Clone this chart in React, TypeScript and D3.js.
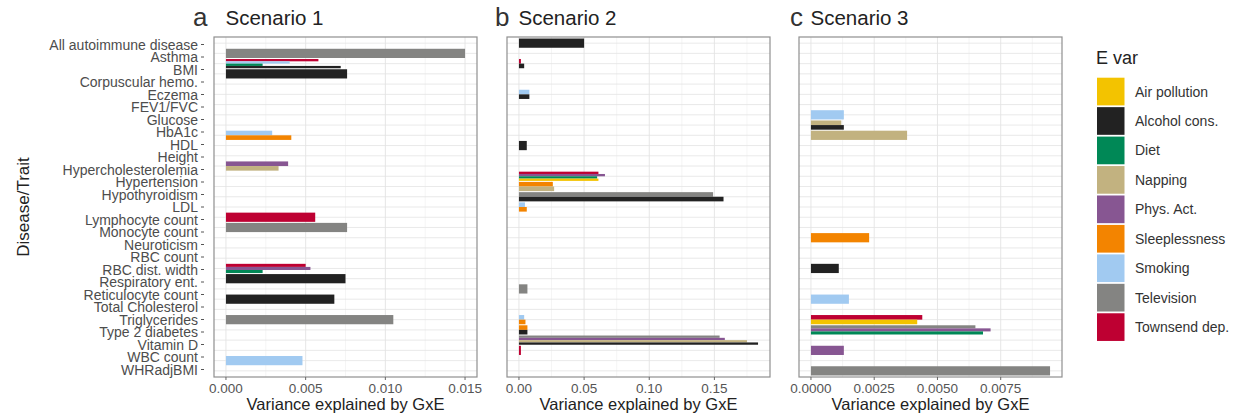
import React, { useEffect, useRef } from 'react';
import * as d3 from 'd3';

// y-axis labels as printed on the figure (27 names)
const traits = [
  'All autoimmune disease', 'Asthma', 'BMI', 'Corpuscular hemo.', 'Eczema', 'FEV1/FVC',
  'Glucose', 'HbA1c', 'HDL', 'Height', 'Hypercholesterolemia', 'Hypertension',
  'Hypothyroidism', 'LDL', 'Lymphocyte count', 'Monocyte count', 'Neuroticism', 'RBC count',
  'RBC dist. width', 'Respiratory ent.', 'Reticulocyte count', 'Total Cholesterol',
  'Triglycerides', 'Type 2 diabetes', 'Vitamin D', 'WBC count', 'WHRadjBMI',
];

// the bars themselves sit on 33 discrete rows (the figure does not line them up with the labels)
const barRows = d3.range(33);

const evars = [
  'Air pollution', 'Alcohol cons.', 'Diet', 'Napping', 'Phys. Act.',
  'Sleeplessness', 'Smoking', 'Television', 'Townsend dep.',
];
const evarColors = ['#F3C300', '#222222', '#008856', '#C2B280', '#875692', '#F38400', '#A1CAF1', '#848482', '#BE0032'];

// [row, E var, variance explained]
const scenario1 = [
  [1, 'Television', 0.015],
  [2, 'Townsend dep.', 0.0058], [2, 'Smoking', 0.004], [2, 'Diet', 0.0023], [2, 'Alcohol cons.', 0.0072],
  [3, 'Alcohol cons.', 0.0076],
  [9, 'Smoking', 0.0029], [9, 'Sleeplessness', 0.0041],
  [12, 'Phys. Act.', 0.0039], [12, 'Napping', 0.0033],
  [17, 'Townsend dep.', 0.0056],
  [18, 'Television', 0.0076],
  [22, 'Townsend dep.', 0.005], [22, 'Phys. Act.', 0.0053], [22, 'Diet', 0.0023],
  [23, 'Alcohol cons.', 0.0075],
  [25, 'Alcohol cons.', 0.0068],
  [27, 'Television', 0.0105],
  [31, 'Smoking', 0.0048],
];

const scenario2 = [
  [0, 'Alcohol cons.', 0.05],
  [2, 'Townsend dep.', 0.0015], [2, 'Alcohol cons.', 0.004],
  [5, 'Smoking', 0.008], [5, 'Alcohol cons.', 0.008],
  [10, 'Alcohol cons.', 0.006],
  [13, 'Townsend dep.', 0.061], [13, 'Phys. Act.', 0.066], [13, 'Diet', 0.06], [13, 'Air pollution', 0.061],
  [14, 'Sleeplessness', 0.026], [14, 'Napping', 0.027],
  [15, 'Television', 0.149], [15, 'Alcohol cons.', 0.157],
  [16, 'Smoking', 0.0046], [16, 'Sleeplessness', 0.006],
  [24, 'Television', 0.0065],
  [27, 'Smoking', 0.004], [27, 'Sleeplessness', 0.005],
  [28, 'Sleeplessness', 0.0065], [28, 'Alcohol cons.', 0.0065],
  [29, 'Television', 0.154], [29, 'Phys. Act.', 0.158], [29, 'Napping', 0.175], [29, 'Alcohol cons.', 0.1835],
  [30, 'Townsend dep.', 0.0015],
];

const scenario3 = [
  [7, 'Smoking', 0.0013],
  [8, 'Napping', 0.0012], [8, 'Alcohol cons.', 0.0013],
  [9, 'Napping', 0.0038],
  [19, 'Sleeplessness', 0.0023],
  [22, 'Alcohol cons.', 0.0011],
  [25, 'Smoking', 0.0015],
  [27, 'Townsend dep.', 0.0044], [27, 'Air pollution', 0.0042],
  [28, 'Television', 0.0065], [28, 'Phys. Act.', 0.0071], [28, 'Diet', 0.0068],
  [30, 'Phys. Act.', 0.0013],
  [32, 'Television', 0.00945],
];

const panelLetters = ['a', 'b', 'c'];
const panelTitles = ['Scenario 1', 'Scenario 2', 'Scenario 3'];
const panelTicks = [
  [0, 0.005, 0.01, 0.015],
  [0, 0.05, 0.1, 0.15],
  [0, 0.0025, 0.005, 0.0075],
];
const tickFormats = ['.3f', '.2f', '.4f'];

const App = () => {
  const svgRef = useRef(null);

  useEffect(() => {
    if (!svgRef.current) return;
    const svg = d3.select(svgRef.current);
    svg.selectAll('*').remove();

    const font = '"Liberation Sans", Arial, Helvetica, sans-serif';
    const top = 37, bottom = 377;
    const panelLeft = [214, 507, 799];
    const panelW = 263;
    const letterX = [193, 495, 790];

    const labelY = d3.scalePoint().domain(traits).range([top, bottom]).padding(0.6);
    const rowY = d3.scalePoint().domain(barRows).range([top, bottom]).padding(0.6);
    const band = rowY.step() * 0.9;
    const color = d3.scaleOrdinal().domain(evars).range(evarColors);

    svg.append('rect').attr('width', 1243).attr('height', 418).attr('fill', '#fff');

    // y axis labels + ticks
    const yAxis = svg.append('g');
    traits.forEach(t => {
      yAxis.append('text')
        .attr('x', 198).attr('y', labelY(t))
        .attr('dy', '0.36em')
        .attr('text-anchor', 'end')
        .attr('font-family', font).attr('font-size', 14)
        .attr('fill', '#4d4d4d')
        .text(t);
      yAxis.append('line')
        .attr('x1', 201).attr('x2', 204)
        .attr('y1', labelY(t)).attr('y2', labelY(t))
        .attr('stroke', '#555').attr('stroke-width', 1);
    });

    svg.append('text')
      .attr('transform', `translate(29,${(top + bottom) / 2}) rotate(-90)`)
      .attr('text-anchor', 'middle')
      .attr('font-family', font).attr('font-size', 17)
      .attr('fill', '#222')
      .text('Disease/Trait');

    [scenario1, scenario2, scenario3].forEach((bars, pi) => {
      const x0 = panelLeft[pi], x1 = x0 + panelW;
      const max = d3.max(bars, d => d[2]);
      const pad = max * 0.05;
      const x = d3.scaleLinear().domain([-pad, max + pad]).range([x0, x1]);
      const ticks = panelTicks[pi];
      const step = ticks[1] - ticks[0];
      const minors = ticks.map(t => t + step / 2).filter(t => t < max + pad);
      const g = svg.append('g');

      // grid
      minors.forEach(t => {
        g.append('line').attr('x1', x(t)).attr('x2', x(t)).attr('y1', top).attr('y2', bottom)
          .attr('stroke', '#efefef').attr('stroke-width', 0.6);
      });
      barRows.forEach(r => {
        g.append('line').attr('x1', x0).attr('x2', x1).attr('y1', rowY(r)).attr('y2', rowY(r))
          .attr('stroke', '#e3e3e3').attr('stroke-width', 0.8);
      });
      ticks.forEach(t => {
        g.append('line').attr('x1', x(t)).attr('x2', x(t)).attr('y1', top).attr('y2', bottom)
          .attr('stroke', '#e3e3e3').attr('stroke-width', 0.9);
      });

      // dodged bars, reverse E var order top to bottom
      const byRow = d3.group(bars, d => d[0]);
      byRow.forEach((arr, r) => {
        const sorted = arr.slice().sort((a, b) => evars.indexOf(b[1]) - evars.indexOf(a[1]));
        const h = band / sorted.length;
        sorted.forEach((d, i) => {
          g.append('rect')
            .attr('x', x(0))
            .attr('y', rowY(r) - band / 2 + i * h)
            .attr('width', x(d[2]) - x(0))
            .attr('height', h)
            .attr('fill', color(d[1]));
        });
      });

      // border
      g.append('rect')
        .attr('x', x0).attr('y', top).attr('width', panelW).attr('height', bottom - top)
        .attr('fill', 'none').attr('stroke', '#8f8f8f').attr('stroke-width', 1.2);

      // x axis
      const fmt = d3.format(tickFormats[pi]);
      ticks.forEach(t => {
        g.append('line').attr('x1', x(t)).attr('x2', x(t)).attr('y1', bottom).attr('y2', bottom + 3)
          .attr('stroke', '#666').attr('stroke-width', 1);
        g.append('text')
          .attr('x', x(t)).attr('y', bottom + 16)
          .attr('text-anchor', 'middle')
          .attr('font-family', font).attr('font-size', 13.5)
          .attr('fill', '#555')
          .text(fmt(t));
      });
      g.append('text')
        .attr('x', (x0 + x1) / 2).attr('y', 410)
        .attr('text-anchor', 'middle')
        .attr('font-family', font).attr('font-size', 16.5)
        .attr('fill', '#222')
        .text('Variance explained by GxE');

      // titles
      g.append('text')
        .attr('x', letterX[pi]).attr('y', 26)
        .attr('font-family', font).attr('font-size', 26)
        .attr('fill', '#333')
        .text(panelLetters[pi]);
      g.append('text')
        .attr('x', x0 + 11.5).attr('y', 25)
        .attr('font-family', font).attr('font-size', 20.5)
        .attr('fill', '#222')
        .text(panelTitles[pi]);
    });

    // legend
    const lg = svg.append('g');
    lg.append('text')
      .attr('x', 1096).attr('y', 64)
      .attr('font-family', font).attr('font-size', 18)
      .attr('fill', '#222')
      .text('E var');
    const keyY = d3.scaleBand().domain(evars).range([77.7, 77.7 + 29.25 * evars.length]).paddingInner(0.06);
    evars.forEach(e => {
      lg.append('rect')
        .attr('x', 1097).attr('y', keyY(e))
        .attr('width', 27.5).attr('height', keyY.bandwidth())
        .attr('fill', color(e));
      lg.append('text')
        .attr('x', 1135).attr('y', keyY(e) + keyY.bandwidth() / 2)
        .attr('dy', '0.36em')
        .attr('font-family', font).attr('font-size', 14)
        .attr('fill', '#333')
        .text(e);
    });
  }, []);

  return (
    <svg
      ref={svgRef}
      width={1243}
      height={418}
      style={{ position: 'absolute', left: 0, top: 0, display: 'block' }}
    />
  );
};

export default App;
